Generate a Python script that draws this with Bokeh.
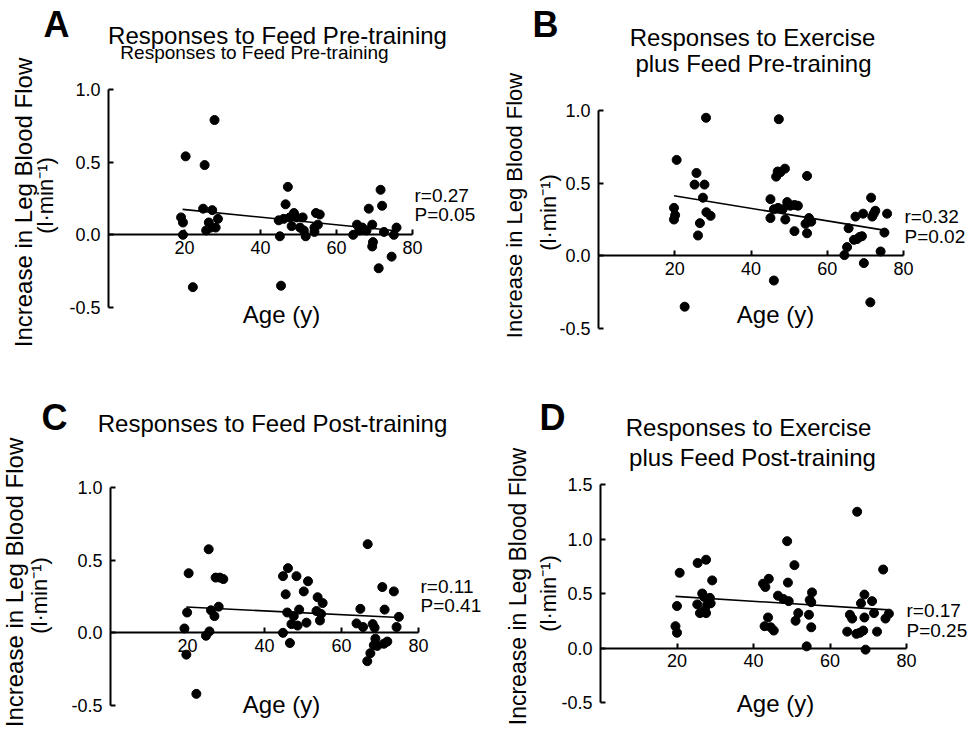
import numpy as np
from bokeh.plotting import figure
from bokeh.models import Range1d, FixedTicker, PrintfTickFormatter, Label
from bokeh.layouts import column, row
from bokeh.embed import file_html
from bokeh.resources import INLINE

FONT = "Liberation Sans"

# ---------------- data ----------------
x_ticks = [20, 40, 60, 80]
y_ticks_abc = [-0.5, 0.0, 0.5, 1.0]
y_ticks_d = [-0.5, 0.0, 0.5, 1.0, 1.5]

a_age = [19.1, 19.6, 19.6, 20.3, 22.2, 25.3, 24.9, 25.7, 27.3, 26.4, 27.9, 28.2, 28.8, 26.9,
         45.1, 45.4, 44.8, 46.1, 46.6, 47.2, 47.7, 48.2, 48.8, 49.5, 50.4, 51.1, 51.9, 51.4,
         54.2, 54.6, 55.6, 55.1, 54.2,
         64.4, 65.4, 66.0, 66.8, 67.9, 68.5, 69.4, 69.6, 69.4, 71.1, 71.6, 72.0, 72.5, 74.5,
         75.1, 75.8]
a_flow = [0.12, 0.085, 0.0, 0.54, -0.36, 0.48, 0.18, 0.03, 0.17, 0.085, 0.79, 0.05, 0.11, 0.05,
          -0.01, -0.35, 0.10, 0.11, 0.21, 0.33, 0.12, 0.06, 0.15, 0.12, 0.05, 0.12, -0.01, 0.03,
          0.02, 0.15, 0.14, 0.07, 0.05,
          0.0, 0.07, 0.03, 0.05, 0.03, 0.18, 0.07, -0.05, -0.08, -0.23, 0.31, 0.20, 0.02, -0.15,
          0.0, 0.05]
a_fit_age = [19.5, 75.0]
a_fit_flow = [0.175, 0.03]

b_age = [19.8, 20.1, 19.8, 20.5, 22.6, 25.7, 25.2, 27.8, 26.6, 26.1, 27.4, 28.3, 28.2, 29.4,
         45.1, 45.1, 46.0, 46.0, 46.6, 47.0, 47.3, 47.7, 48.9, 48.3, 49.0, 49.5, 50.3, 51.4,
         51.4, 52.3, 47.1, 54.7, 54.3, 54.7, 55.2, 55.8,
         64.5, 65.2, 65.6, 67.0, 67.4, 67.8, 68.5, 69.1, 69.4, 69.6, 71.3, 71.5, 71.8, 72.2,
         72.6, 74.0, 75.0, 75.7]
b_flow = [0.33, 0.28, 0.25, 0.66, -0.35, 0.57, 0.49, 0.49, 0.225, 0.14, 0.40, 0.30, 0.95, 0.275,
          0.39, 0.26, -0.17, 0.32, 0.545, 0.58, 0.94, 0.575, 0.60, 0.32, 0.25, 0.37, 0.345, 0.17,
          0.35, 0.345, 0.33, 0.55, 0.22, 0.155, 0.26, 0.235,
          0.005, 0.06, 0.19, 0.11, 0.27, 0.115, 0.13, 0.135, 0.29, -0.05, -0.32, 0.40, 0.27, 0.29,
          0.31, 0.03, 0.16, 0.29]
b_fit_age = [19.8, 74.8]
b_fit_flow = [0.414, 0.177]

c_age = [19.2, 19.7, 19.9, 20.3, 22.3, 24.8, 25.7, 25.5, 26.1, 27.0, 27.3, 28.1, 28.4, 29.3,
         44.8, 44.8, 45.5, 46.1, 45.9, 46.6, 47.0, 47.6, 48.3, 48.6, 49.0, 50.2, 50.9, 51.3,
         53.8, 53.5, 54.4, 54.7, 55.1,
         63.9, 64.9, 65.6, 66.8, 66.7, 67.5, 68.1, 68.6, 68.4, 68.8, 69.3, 70.6, 71.0, 71.2,
         71.9, 73.6, 74.3, 74.9]
c_flow = [0.03, -0.15, 0.14, 0.41, -0.42, -0.02, 0.01, 0.575, 0.155, 0.115, 0.38, 0.18, 0.38, 0.37,
          0.0, 0.39, 0.265, 0.445, 0.14, -0.07, 0.06, 0.115, 0.39, 0.05, 0.16, 0.285, 0.07, 0.355,
          0.245, 0.15, 0.085, 0.13, 0.205,
          0.065, 0.165, 0.04, 0.61, -0.195, -0.14, 0.06, 0.035, -0.085, -0.04, -0.09, 0.315, -0.075,
          0.16, -0.06, 0.285, 0.04, 0.11]
c_fit_age = [19.7, 74.9]
c_fit_flow = [0.178, 0.105]

d_age = [19.6, 20.0, 20.0, 20.7, 25.4, 27.6, 25.3, 26.0, 26.6, 27.0, 27.6, 27.9, 28.6, 28.8,
         29.2, 27.3,
         42.5, 43.1, 44.0, 42.9, 43.8, 44.5, 45.3, 46.4, 47.8, 48.8, 49.0, 49.2, 50.7, 51.0,
         51.7, 53.9, 54.5, 54.7, 55.1, 55.3, 55.1,
         64.5, 65.2, 65.8, 67.1, 66.9, 67.8, 68.1, 68.7, 69.0, 69.0, 69.3, 71.0, 71.5, 72.3,
         73.9, 74.5, 75.4]
d_flow = [0.20, 0.14, 0.385, 0.69, 0.78, 0.81, 0.40, 0.32, 0.50, 0.47, 0.32, 0.40, 0.46, 0.41,
          0.62, 0.35,
          0.59, 0.56, 0.635, 0.20, 0.28, 0.19, 0.16, 0.48, 0.45, 0.98, 0.60, 0.43, 0.76, 0.25,
          0.32, 0.015, 0.305, 0.44, 0.19, 0.51, 0.42,
          0.15, 0.305, 0.27, 1.25, 0.13, 0.14, 0.41, 0.16, 0.49, 0.28, -0.015, 0.43, 0.32, 0.15,
          0.72, 0.27, 0.315]
d_fit_age = [19.6, 75.4]
d_fit_flow = [0.474, 0.35]

titles_a = ["Responses to Feed Pre-training"]
subtitle_a = "Responses to Feed Pre-training"
titles_b = ["Responses to Exercise", "plus Feed Pre-training"]
titles_c = ["Responses to Feed Post-training"]
titles_d = ["Responses to Exercise", "plus Feed Post-training"]
stats = {"A": ("r=0.27", "P=0.05"), "B": ("r=0.32", "P=0.02"),
         "C": ("r=0.11", "P=0.41"), "D": ("r=0.17", "P=0.25")}
ylab1 = "Increase in Leg Blood Flow"
ylab2 = "(l\u00b7min\u207b\u00b9)"
xlab = "Age (y)"

# ---------------- layout geometry (page pixels) ----------------
# canvas: cx, cy, w, h ; axes box: fl (x=0), ft (y=ymax), fr (x=80), fb (y=ymin)
geo = {
    "A": dict(cx=0, cy=0, w=500, h=365, fl=108, ft=89, fr=412, fb=307, ymin=-0.5, ymax=1.0),
    "B": dict(cx=500, cy=0, w=469, h=365, fl=598, ft=110, fr=903, fb=328, ymin=-0.5, ymax=1.0),
    "C": dict(cx=0, cy=365, w=506, h=363, fl=110, ft=487, fr=418, fb=705, ymin=-0.5, ymax=1.0),
    "D": dict(cx=506, cy=365, w=463, h=363, fl=600, ft=484, fr=906, fb=702, ymin=-0.5, ymax=1.5),
}


def px2x(g, px):
    return (px - g["fl"]) / (g["fr"] - g["fl"]) * 80.0


def py2y(g, py):
    return g["ymax"] - (py - g["ft"]) / (g["fb"] - g["ft"]) * (g["ymax"] - g["ymin"])


def add_text(p, g, text, px, py, size, bold=False, angle=0.0, align="center", rotated=False):
    # py is the text baseline for horizontal text, the line centre for rotated text
    yc = py if rotated else py - 0.358 * size
    p.add_layout(Label(x=px2x(g, px), y=py2y(g, yc), text=text, text_font=FONT,
                       text_font_size=f"{size}px",
                       text_font_style="bold" if bold else "normal", angle=angle,
                       text_align=align, text_baseline="middle", text_color="black"))


def make_panel(key, age, flow, fit_age, fit_flow, yticks):
    g = geo[key]
    p = figure(width=g["w"], height=g["h"], title=None,
               x_range=Range1d(px2x(g, g["cx"]), px2x(g, g["cx"] + g["w"])),
               y_range=Range1d(py2y(g, g["cy"] + g["h"]), py2y(g, g["cy"])),
               output_backend="svg", toolbar_location=None,
               min_border_left=0, min_border_right=0, min_border_top=0, min_border_bottom=0)
    p.outline_line_color = None
    p.grid.visible = False
    p.background_fill_color = "white"
    p.border_fill_color = "white"

    xa = p.xaxis[0]
    xa.fixed_location = 0
    xa.bounds = (0, 80)
    xa.ticker = FixedTicker(ticks=x_ticks)
    xa.major_tick_in = 5
    xa.major_tick_out = 0
    xa.minor_tick_in = 0
    xa.minor_tick_out = 0
    xa.axis_line_width = 2
    xa.major_tick_line_width = 2
    xa.major_label_text_font = FONT
    xa.major_label_text_font_size = "18px"
    xa.major_label_text_color = "black"
    xa.major_label_standoff = 6

    ya = p.yaxis[0]
    ya.fixed_location = 0
    ya.bounds = (g["ymin"], g["ymax"])
    ya.ticker = FixedTicker(ticks=yticks)
    ya.formatter = PrintfTickFormatter(format="%.1f")
    ya.major_tick_in = 5
    ya.major_tick_out = 0
    ya.minor_tick_in = 0
    ya.minor_tick_out = 0
    ya.axis_line_width = 2
    ya.major_tick_line_width = 2
    ya.major_label_text_font = FONT
    ya.major_label_text_font_size = "18px"
    ya.major_label_text_color = "black"
    ya.major_label_standoff = 8

    p.line(fit_age, fit_flow, line_color="black", line_width=1.6)
    p.scatter(age, flow, size=9, marker="circle", fill_color="black", line_color="black")
    return p, g


pa, ga = make_panel("A", a_age, a_flow, a_fit_age, a_fit_flow, y_ticks_abc)
pb, gb = make_panel("B", b_age, b_flow, b_fit_age, b_fit_flow, y_ticks_abc)
pc, gc = make_panel("C", c_age, c_flow, c_fit_age, c_fit_flow, y_ticks_abc)
pd_, gd = make_panel("D", d_age, d_flow, d_fit_age, d_fit_flow, y_ticks_d)

R = np.pi / 2

# Panel A texts
add_text(pa, ga, "A", 56, 37, 36, bold=True)
add_text(pa, ga, titles_a[0], 277, 44, 24)
add_text(pa, ga, subtitle_a, 254, 59, 19)
add_text(pa, ga, ylab1, 23, 202, 24, angle=R, rotated=True)
add_text(pa, ga, ylab2, 45, 195, 22, angle=R, rotated=True)
add_text(pa, ga, xlab, 281, 323, 24)
add_text(pa, ga, stats["A"][0], 414, 202, 19, align="left")
add_text(pa, ga, stats["A"][1], 414, 221, 19, align="left")

# Panel B texts
add_text(pb, gb, "B", 545, 37, 36, bold=True)
add_text(pb, gb, titles_b[0], 752, 46, 24)
add_text(pb, gb, titles_b[1], 753, 72, 24)
add_text(pb, gb, ylab1, 514, 205, 22, angle=R, rotated=True)
add_text(pb, gb, ylab2, 548, 212, 22, angle=R, rotated=True)
add_text(pb, gb, xlab, 775, 323, 24)
add_text(pb, gb, stats["B"][0], 904, 223, 19, align="left")
add_text(pb, gb, stats["B"][1], 904, 243, 19, align="left")

# Panel C texts
add_text(pc, gc, "C", 54, 430, 36, bold=True)
add_text(pc, gc, titles_c[0], 272, 432, 24)
add_text(pc, gc, ylab1, 14, 582, 24, angle=R, rotated=True)
add_text(pc, gc, ylab2, 39, 595, 22, angle=R, rotated=True)
add_text(pc, gc, xlab, 281, 713, 24)
add_text(pc, gc, stats["C"][0], 420, 593, 19, align="left")
add_text(pc, gc, stats["C"][1], 420, 612, 19, align="left")

# Panel D texts
add_text(pd_, gd, "D", 552, 430, 36, bold=True)
add_text(pd_, gd, titles_d[0], 748, 436, 24)
add_text(pd_, gd, titles_d[1], 752, 466, 24)
add_text(pd_, gd, ylab1, 517, 586, 23, angle=R, rotated=True)
add_text(pd_, gd, ylab2, 548, 593, 22, angle=R, rotated=True)
add_text(pd_, gd, xlab, 775, 712, 24)
add_text(pd_, gd, stats["D"][0], 906, 617, 19, align="left")
add_text(pd_, gd, stats["D"][1], 906, 637, 19, align="left")

layout = column(row(pa, pb), row(pc, pd_))
open("out.html", "w").write(file_html(layout, INLINE))
